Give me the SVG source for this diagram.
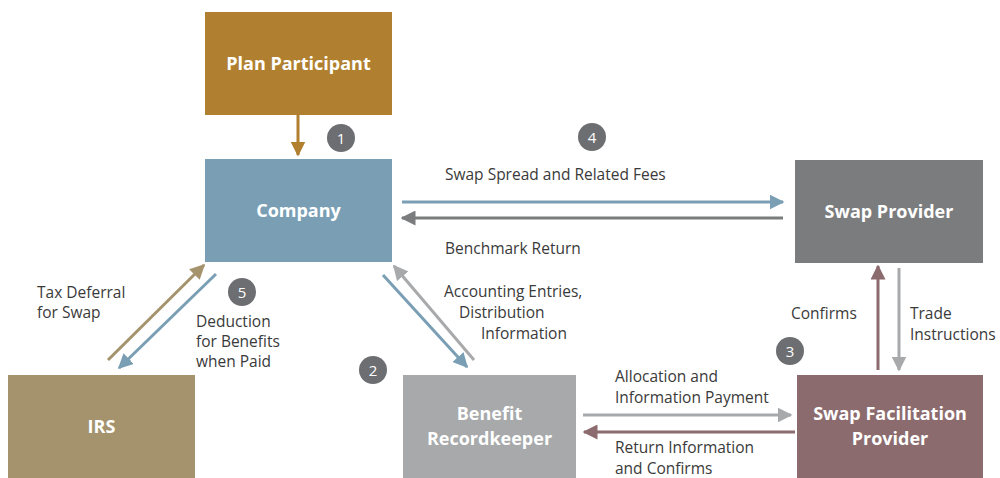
<svg xmlns="http://www.w3.org/2000/svg" width="1000" height="478" viewBox="0 0 1000 478">
<defs>
<style>
.node{font-family:"Open Sans","Liberation Sans",sans-serif;font-weight:bold;font-size:18px;fill:#fff;text-anchor:middle}
.lbl{font-family:"Open Sans","Liberation Sans",sans-serif;font-size:15.5px;fill:#3a3a3a}
.num{font-family:"Open Sans","Liberation Sans",sans-serif;font-size:15px;fill:#fff;text-anchor:middle}
.badge{fill:#6d6e71}
.ln{stroke-width:3;fill:none}
</style>
<marker id="aGold" viewBox="0 0 10 10" refX="9" refY="5" markerWidth="5" markerHeight="5" orient="auto" markerUnits="strokeWidth"><path d="M0,0L10,5L0,10z" fill="#B07F2F"/></marker>
<marker id="aBlue" viewBox="0 0 10 10" refX="9" refY="5" markerWidth="5" markerHeight="5" orient="auto" markerUnits="strokeWidth"><path d="M0,0L10,5L0,10z" fill="#7A9FB5"/></marker>
<marker id="aGray" viewBox="0 0 10 10" refX="9" refY="5" markerWidth="5" markerHeight="5" orient="auto" markerUnits="strokeWidth"><path d="M0,0L10,5L0,10z" fill="#7B7C7D"/></marker>
<marker id="aLGray" viewBox="0 0 10 10" refX="9" refY="5" markerWidth="5" markerHeight="5" orient="auto" markerUnits="strokeWidth"><path d="M0,0L10,5L0,10z" fill="#A7A9AB"/></marker>
<marker id="aTan" viewBox="0 0 10 10" refX="9" refY="5" markerWidth="5" markerHeight="5" orient="auto" markerUnits="strokeWidth"><path d="M0,0L10,5L0,10z" fill="#A4936D"/></marker>
<marker id="aMauve" viewBox="0 0 10 10" refX="9" refY="5" markerWidth="5" markerHeight="5" orient="auto" markerUnits="strokeWidth"><path d="M0,0L10,5L0,10z" fill="#8C6B6E"/></marker>
</defs>
<rect width="1000" height="478" fill="#fff"/>

<g id="connectors">
<line class="ln" x1="298" y1="115" x2="298" y2="155" stroke="#B07F2F" marker-end="url(#aGold)"/>
<line class="ln" x1="402" y1="202" x2="783" y2="202" stroke="#7A9FB5" marker-end="url(#aBlue)"/>
<line class="ln" x1="783" y1="218" x2="402" y2="218" stroke="#7B7C7D" marker-end="url(#aGray)"/>
<line class="ln" x1="108" y1="360" x2="204" y2="265" stroke="#A4936D" marker-end="url(#aTan)"/>
<line class="ln" x1="216" y1="274" x2="119" y2="368" stroke="#7A9FB5" marker-end="url(#aBlue)"/>
<line class="ln" x1="383" y1="275" x2="467" y2="367" stroke="#7A9FB5" marker-end="url(#aBlue)"/>
<line class="ln" x1="474" y1="360" x2="394" y2="266" stroke="#A7A9AB" marker-end="url(#aLGray)"/>
<line class="ln" x1="878" y1="370" x2="878" y2="266" stroke="#8C6B6E" marker-end="url(#aMauve)"/>
<line class="ln" x1="899" y1="268" x2="899" y2="370" stroke="#A7A9AB" marker-end="url(#aLGray)"/>
<line class="ln" x1="583" y1="415" x2="791" y2="415" stroke="#A7A9AB" marker-end="url(#aLGray)"/>
<line class="ln" x1="795" y1="432" x2="584" y2="432" stroke="#8C6B6E" marker-end="url(#aMauve)"/>
</g>

<g id="labels">
<text class="lbl" x="445" y="180">Swap Spread and Related Fees</text>
<text class="lbl" x="445" y="254">Benchmark Return</text>
<text class="lbl" x="37" y="298">Tax Deferral</text>
<text class="lbl" x="37" y="318">for Swap</text>
<text class="lbl" x="196" y="327">Deduction</text>
<text class="lbl" x="196" y="347">for Benefits</text>
<text class="lbl" x="196" y="367">when Paid</text>
<text class="lbl" x="444" y="297">Accounting Entries,</text>
<text class="lbl" x="459" y="318">Distribution</text>
<text class="lbl" x="481" y="339">Information</text>
<text class="lbl" x="791" y="319">Confirms</text>
<text class="lbl" x="910" y="319">Trade</text>
<text class="lbl" x="910" y="340">Instructions</text>
<text class="lbl" x="615" y="382">Allocation and</text>
<text class="lbl" x="615" y="403">Information Payment</text>
<text class="lbl" x="615" y="453">Return Information</text>
<text class="lbl" x="615" y="474">and Confirms</text>
</g>

<g id="badges">
<circle class="badge" cx="341" cy="138" r="14"/><text class="num" x="341" y="143.5">1</text>
<circle class="badge" cx="592" cy="137" r="14"/><text class="num" x="592" y="142.5">4</text>
<circle class="badge" cx="242" cy="292" r="14"/><text class="num" x="242" y="297.5">5</text>
<circle class="badge" cx="373" cy="370" r="14"/><text class="num" x="373" y="375.5">2</text>
<circle class="badge" cx="790" cy="351" r="14"/><text class="num" x="790" y="356.5">3</text>
</g>

<g id="plan-participant"><rect x="205" y="12" width="187" height="103" fill="#B07F2F"/><text class="node" x="298.5" y="70">Plan Participant</text></g>
<g id="company"><rect x="205" y="159" width="187" height="103" fill="#7A9FB5"/><text class="node" x="298.5" y="217">Company</text></g>
<g id="swap-provider"><rect x="795" y="160" width="188" height="103" fill="#7B7C7D"/><text class="node" x="889" y="218">Swap Provider</text></g>
<g id="irs"><rect x="8" y="375" width="187" height="103" fill="#A4936D"/><text class="node" x="101.5" y="433">IRS</text></g>
<g id="benefit-recordkeeper"><rect x="403" y="375" width="173" height="103" fill="#A7A9AB"/><text class="node" x="489.5" y="420">Benefit</text><text class="node" x="489.5" y="445">Recordkeeper</text></g>
<g id="swap-facilitation-provider"><rect x="797" y="375" width="186" height="103" fill="#8C6B6E"/><text class="node" x="890" y="420">Swap Facilitation</text><text class="node" x="890" y="445">Provider</text></g>
</svg>
